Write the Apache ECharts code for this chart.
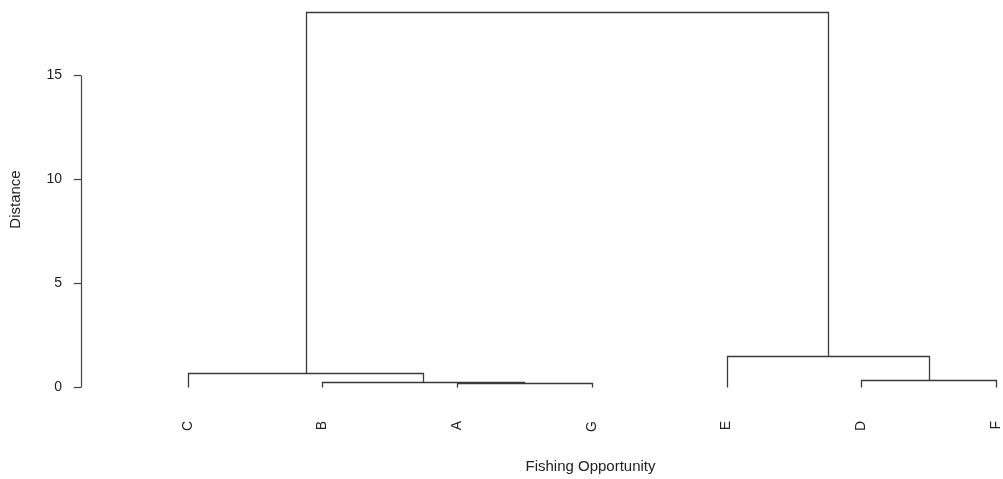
<!DOCTYPE html>
<html>
<head>
<meta charset="utf-8">
<script src="https://cdn.jsdelivr.net/npm/echarts@6/dist/echarts.min.js"></script>
<style>html,body{margin:0;padding:0;background:#fff;}#chart{width:1003px;height:479px;}</style>
</head>
<body>
<div id="chart"></div>
<script>
// Leaf labels in dendrogram order (left to right)
const leafLabels = ['C', 'B', 'A', 'G', 'E', 'D', 'F'];
// hclust-style merges: negative = leaf position (1-based), positive = earlier merge (1-based)
const mergeLeft   = [-3, -6, -2, -1, -5, 4];
const mergeRight  = [-4, -7,  1,  3,  2, 5];
const mergeHeight = [0.20, 0.34, 0.23, 0.69, 1.50, 18.05];
const yTicks = [0, 5, 10, 15];

// Build dendrogram links from merge structure
const nodeX = [], nodeH = [];
function childPos(ref) {
  if (ref < 0) return [-ref, 0];
  return [nodeX[ref - 1], nodeH[ref - 1]];
}
const links = [];
for (let k = 0; k < mergeHeight.length; k++) {
  const [xl, hl] = childPos(mergeLeft[k]);
  const [xr, hr] = childPos(mergeRight[k]);
  nodeX.push((xl + xr) / 2);
  nodeH.push(mergeHeight[k]);
  links.push([xl, hl, xr, hr, mergeHeight[k]]);
}
const leafPositions = leafLabels.map((_, i) => i + 1);

const X_MIN = 0.2084, X_MAX = 7.015;
const crisp = p => [Math.round(p[0]) + 0.5, Math.round(p[1]) + 0.5];
const FONT = 'Liberation Sans, Arial, sans-serif';
const chart = echarts.init(document.getElementById('chart'));
chart.setOption({
  animation: false,
  grid: { left: 81, right: 0, top: 12, bottom: 91 },
  xAxis: {
    type: 'value',
    min: X_MIN, max: X_MAX,
    axisLine: { show: false },
    axisTick: { show: false },
    splitLine: { show: false },
    axisLabel: {
      customValues: leafPositions,
      formatter: v => leafLabels[Math.round(v) - 1],
      rotate: 90, margin: 34, fontSize: 14, color: '#222', fontFamily: FONT
    },
    name: 'Fishing Opportunity',
    nameLocation: 'middle', nameGap: 72,
    nameTextStyle: { fontSize: 15, color: '#222', fontFamily: FONT, padding: [0, 0, 0, 102] }
  },
  yAxis: {
    type: 'value',
    min: 0, max: 'dataMax', interval: 5,
    axisLine: { show: false },
    splitLine: { show: false },
    axisTick: { show: true, customValues: yTicks, length: 7, lineStyle: { color: '#444', width: 1.2 } },
    axisLabel: { customValues: yTicks, margin: 19, fontSize: 14, color: '#222', fontFamily: FONT },
    name: 'Distance',
    nameLocation: 'middle', nameGap: 58,
    nameTextStyle: { fontSize: 15, color: '#222', fontFamily: FONT }
  },
  series: [
    {
      type: 'custom',
      clip: false,
      encode: { x: [0, 2], y: [1, 3, 4] },
      data: links,
      renderItem: function (params, api) {
        const p1 = crisp(api.coord([api.value(0), api.value(1)]));
        const p2 = crisp(api.coord([api.value(0), api.value(4)]));
        const p3 = crisp(api.coord([api.value(2), api.value(4)]));
        const p4 = crisp(api.coord([api.value(2), api.value(3)]));
        return {
          type: 'polyline',
          shape: { points: [p1, p2, p3, p4] },
          style: { stroke: '#3a3a3a', lineWidth: 1.3, fill: null }
        };
      }
    },
    {
      // y axis line spanning only the tick range (R style)
      type: 'custom',
      clip: false,
      encode: { y: [0, 1] },
      data: [[yTicks[0], yTicks[yTicks.length - 1]]],
      renderItem: function (params, api) {
        const x = params.coordSys.x;
        const a = api.coord([X_MIN, api.value(0)]);
        const b = api.coord([X_MIN, api.value(1)]);
        return {
          type: 'line',
          shape: { x1: Math.round(x) + 0.5, y1: Math.round(a[1]) + 0.5, x2: Math.round(x) + 0.5, y2: Math.round(b[1]) + 0.5 },
          style: { stroke: '#444', lineWidth: 1.2 }
        };
      }
    }
  ]
});
</script>
</body>
</html>
